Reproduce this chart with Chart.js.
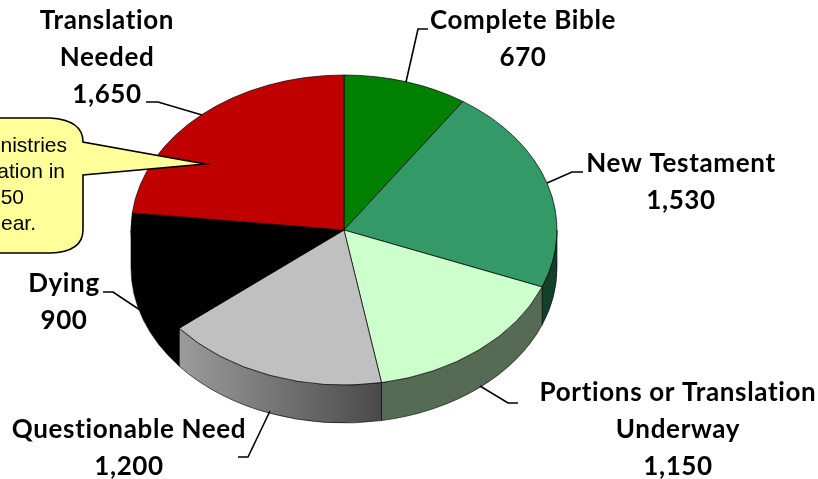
<!DOCTYPE html>
<html>
<head>
<meta charset="utf-8">
<title>Translation status</title>
<script src="https://cdn.jsdelivr.net/npm/chart.js@4"></script>
<style>
    html, body { margin: 0; padding: 0; background: #ffffff; }
    #wrap { width: 818px; height: 479px; overflow: hidden; }
</style>
</head>
<body>
<div id="wrap"><canvas id="pie" width="818" height="479"></canvas></div>
<script>
// chart values, clockwise from 12 o'clock
const categories = ['Complete Bible', 'New Testament', 'Portions or Translation Underway', 'Questionable Need', 'Dying', 'Translation Needed'];
const values = [670, 1530, 1150, 1200, 900, 1650];
const sliceColors = ['#008000', '#339966', '#ccffcc', '#c0c0c0', '#000000', '#c00000'];
const calloutLines = ['nistries', 'ation in', '50', 'ear.'];

// label placement: wrapped category, centre x, first baseline, leader line
const labelLayout = [
    { lines: ['Complete Bible'], x: 523, y: 29, leader: [[428, 29], [418, 29], [406, 82]] },
    { lines: ['New Testament'], x: 681, y: 172, leader: [[583, 172], [572, 172], [547, 183]] },
    { lines: ['Portions or Translation', 'Underway'], x: 678, y: 401, leader: [[518, 403], [508, 403], [480, 386]] },
    { lines: ['Questionable Need'], x: 129, y: 438, leader: [[238, 457], [248, 457], [270, 411]] },
    { lines: ['Dying'], x: 64, y: 292, leader: [[103, 292], [113, 292], [140, 310]] },
    { lines: ['Translation', 'Needed'], x: 107, y: 29, leader: [[146, 102], [158, 102], [202, 115]] }
];

const SQUASH = 155 / 213;   // tilt of the pie
const DEPTH = 38;           // height of the side wall

// side wall fill for a slice
function wallFill(ctx, index, cx) {
    if (index === 1) return '#12402a';
    if (index === 2) return '#566b54';
    if (index === 3) {
        const g = ctx.createLinearGradient(cx - 166, 0, cx + 37, 0);
        g.addColorStop(0, '#9c9c9c');
        g.addColorStop(1, '#4a4a4a');
        return g;
    }
    return '#000000';
}

const tiltedPie = {
    id: 'tiltedPie',
    beforeDatasetsDraw(chart) {
        const ctx = chart.ctx;
        const arcs = chart.getDatasetMeta(0).data;
        // only the front half of the pie shows a wall
        arcs.forEach((arc, i) => {
            const from = Math.max(arc.startAngle, 0);
            const to = Math.min(arc.endAngle, Math.PI);
            if (to <= from) return;
            const rx = arc.outerRadius;
            const ry = rx * SQUASH;
            ctx.save();
            // fill reaches under the top face so no light seam shows on its edge
            ctx.beginPath();
            ctx.moveTo(arc.x, arc.y);
            ctx.lineTo(arc.x + rx * Math.cos(from), arc.y + ry * Math.sin(from));
            ctx.ellipse(arc.x, arc.y + DEPTH, rx, ry, 0, from, to);
            ctx.lineTo(arc.x + rx * Math.cos(to), arc.y + ry * Math.sin(to));
            ctx.closePath();
            ctx.fillStyle = wallFill(ctx, i, arc.x);
            ctx.fill();
            ctx.beginPath();
            ctx.ellipse(arc.x, arc.y, rx, ry, 0, from, to);
            ctx.ellipse(arc.x, arc.y + DEPTH, rx, ry, 0, to, from, true);
            ctx.closePath();
            ctx.lineWidth = 0.8;
            ctx.strokeStyle = 'rgba(0,0,0,0.75)';
            ctx.stroke();
            ctx.restore();
        });
        // squash the library's own arcs into an ellipse
        const c = arcs[0];
        ctx.save();
        ctx.translate(c.x, c.y);
        ctx.scale(1, SQUASH);
        ctx.translate(-c.x, -c.y);
    },
    afterDatasetsDraw(chart) {
        chart.ctx.restore();
    },
    afterDraw(chart) {
        const ctx = chart.ctx;
        ctx.save();

        // leader lines
        ctx.strokeStyle = '#000000';
        ctx.lineWidth = 1.6;
        labelLayout.forEach(l => {
            ctx.beginPath();
            l.leader.forEach((p, i) => i ? ctx.lineTo(p[0], p[1]) : ctx.moveTo(p[0], p[1]));
            ctx.stroke();
        });

        // labels, Lato is a little narrower than the original face
        ctx.fillStyle = '#000000';
        ctx.textAlign = 'center';
        ctx.textBaseline = 'alphabetic';
        ctx.font = 'bold 26px Lato';
        ctx.letterSpacing = '0.65px';
        labelLayout.forEach((l, i) => {
            const rows = [...l.lines, values[i].toLocaleString('en-US')];
            rows.forEach((row, n) => ctx.fillText(row, l.x, Math.round(l.y + n * 36.8)));
        });
        ctx.letterSpacing = '0px';

        // callout, runs off the left edge of the picture
        ctx.beginPath();
        ctx.moveTo(-10, 118);
        ctx.lineTo(50, 118);
        ctx.quadraticCurveTo(83, 120, 83, 142);
        ctx.lineTo(205, 164);
        ctx.lineTo(83, 175);
        ctx.lineTo(83, 230);
        ctx.quadraticCurveTo(83, 252, 50, 253);
        ctx.lineTo(-10, 253);
        ctx.closePath();
        ctx.fillStyle = '#ffff99';
        ctx.fill();
        ctx.lineWidth = 1.6;
        ctx.stroke();

        ctx.fillStyle = '#000000';
        ctx.textAlign = 'right';
        ctx.font = '21px "Liberation Sans"';
        const rightEdge = [67, 65, 24, 36];
        calloutLines.forEach((t, i) => ctx.fillText(t, rightEdge[i], 152 + i * 26));
        ctx.restore();
    }
};

new Chart(document.getElementById('pie'), {
    type: 'pie',
    data: {
        labels: categories,
        datasets: [{
            data: values,
            backgroundColor: sliceColors,
            borderColor: 'rgba(0,0,0,0.8)',
            borderWidth: 1,
            radius: 213
        }]
    },
    plugins: [tiltedPie],
    options: {
        responsive: false,
        animation: false,
        layout: { padding: { left: 131, right: 261, top: 17, bottom: 36 } },
        plugins: {
            legend: { display: false },
            tooltip: { enabled: false }
        }
    }
});
</script>
</body>
</html>
